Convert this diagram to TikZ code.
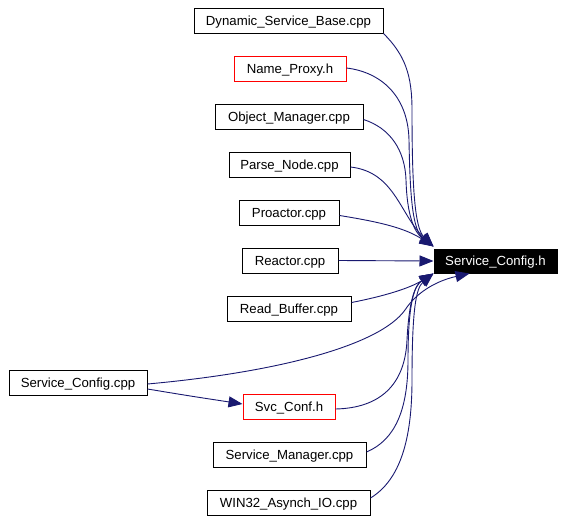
\documentclass[tikz,border=0pt]{standalone}
\usepackage{fontspec}
\setmainfont{Liberation Sans}
\usetikzlibrary{arrows.meta}
\begin{document}
\begin{tikzpicture}[x=1pt,y=-1pt]
  \tikzstyle{fichier}=[draw=black, line width=1pt, rectangle, minimum height=25pt,
  inner sep=0pt, text height=10pt, text depth=1pt, text centered, text=black,
  font=\fontsize{13.2}{15}\selectfont]
  \tikzstyle{cible}=[fichier, fill=black, text=white, minimum height=24pt]
  \tikzstyle{lien}=[-{Triangle[length=14pt,width=11pt]}, draw={rgb,255:red,25;green,25;blue,112},
  line width=0.9pt]
  \useasboundingbox (0,0) rectangle (564,522);
  \foreach \n/\x/\y/\w/\c/\t in {dsb/288.5/20.5/189/black/Dynamic\_Service\_Base.cpp,
    np/290/69/112/red/Name\_Proxy.h, om/289/116.5/148/black/Object\_Manager.cpp,
    pn/289.5/165/121/black/Parse\_Node.cpp, pa/289/212.5/100/black/Proactor.cpp,
    re/290/260.5/96/black/Reactor.cpp, rb/289/308.5/124/black/Read\_Buffer.cpp,
    scc/78/383/138/black/Service\_Config.cpp, svc/289/407/92/red/Svc\_Conf.h,
    sm/289.5/455/153/black/Service\_Manager.cpp, w32/288.5/503/163/black/WIN32\_Asynch\_IO.cpp} {
    \node[fichier, draw=\c, minimum width=\w pt] (\n) at (\x,\y) {\t};
  }
  \node[cible, minimum width=123pt] (sch) at (495.5,261) {Service\_Config.h};
  \coordinate (haut) at ([yshift=2pt]sch.north west);
  \coordinate (bas) at (sch.south west);
  \coordinate (dessous) at ([xshift=36pt]sch.south west);
  \draw[lien] (dsb.south east) .. controls (405,55) and (412,75) .. (412,110)
    .. controls (412,190) and (415,228) .. (haut);
  \draw[lien] ([yshift=1pt]np.east) .. controls (380,72) and (408,95) .. (409,140)
    .. controls (410,200) and (413,230) .. (haut);
  \draw[lien] ([yshift=-3pt]om.east) .. controls (390,128) and (405,150) .. (406,180)
    .. controls (407,215) and (414,232) .. (haut);
  \draw[lien] ([yshift=-2pt]pn.east) .. controls (395,172) and (400,215) .. (haut);
  \draw[lien] ([yshift=-3pt]pa.east) .. controls (380,222) and (405,228) .. (haut);
  \draw[lien] (re.east) -- (sch.west);
  \draw[lien] ([yshift=6pt]rb.east) .. controls (385,296) and (410,288) .. (bas);
  \draw[lien] ([yshift=-1pt]scc.east) .. controls (280,372) and (380,345) .. (405,310)
    .. controls (418,290) and (440,280) .. (dessous);
  \draw[lien] ([yshift=-6pt]scc.east) .. controls (190,396) .. ([yshift=3pt]svc.west);
  \draw[lien] ([yshift=-2pt]svc.east) .. controls (380,408) and (405,385) .. (407,340)
    .. controls (409,300) and (415,285) .. (bas);
  \draw[lien] ([yshift=3pt]sm.east) .. controls (395,440) and (408,410) .. (408,360)
    .. controls (408,300) and (415,285) .. (bas);
  \draw[lien] ([yshift=5pt]w32.east) .. controls (400,480) and (412,440) .. (412,380)
    .. controls (412,310) and (416,288) .. (bas);
\end{tikzpicture}
\end{document}
